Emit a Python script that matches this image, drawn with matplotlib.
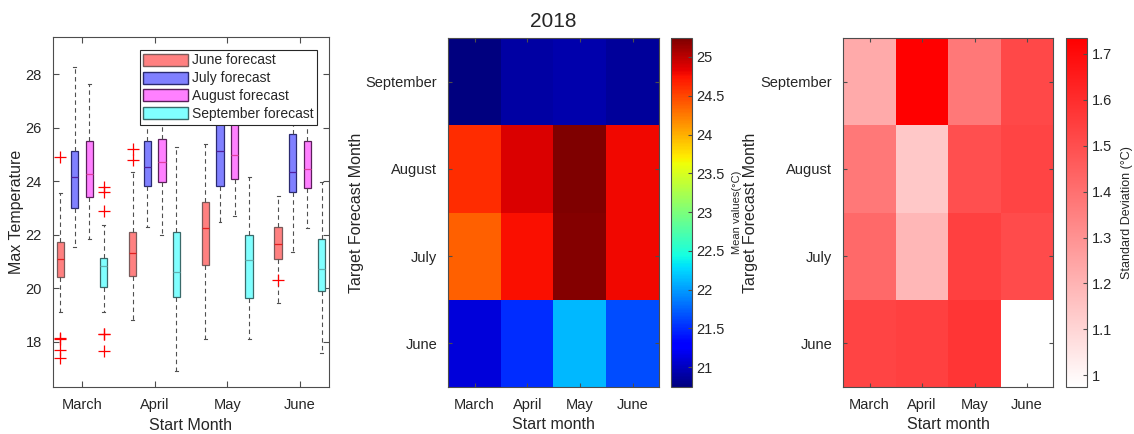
import numpy as np
import matplotlib
matplotlib.use('Agg')
import matplotlib.pyplot as plt
from matplotlib.patches import Patch
from matplotlib.colors import LinearSegmentedColormap

plt.rcParams['font.family'] = ['Liberation Sans', 'DejaVu Sans']
plt.rcParams['text.color'] = '#262626'
plt.rcParams['axes.labelcolor'] = '#262626'
plt.rcParams['xtick.color'] = '#262626'
plt.rcParams['ytick.color'] = '#262626'

start_months = ['March', 'April', 'May', 'June']
target_months = ['June', 'July', 'August', 'September']
series_names = ['June forecast', 'July forecast', 'August forecast', 'September forecast']

# box stats per forecast month, one value per start month
june_q1 = [20.43, 20.47, 20.86, 21.08]
june_med = [21.08, 21.30, 22.24, 21.66]
june_q3 = [21.72, 22.11, 23.21, 22.28]
june_lo = [19.10, 18.81, 18.09, 19.46]
june_hi = [23.57, 24.33, 25.38, 23.46]
june_out = [[24.90, 18.12, 18.08, 17.69, 17.38], [25.20, 24.80], [], [20.29]]

july_q1 = [23.01, 23.82, 23.82, 23.60]
july_med = [24.16, 24.52, 25.13, 24.33]
july_q3 = [25.14, 25.49, 26.60, 25.76]
july_lo = [21.55, 22.30, 22.46, 21.36]
july_hi = [28.26, 27.00, 28.40, 26.80]
july_out = [[], [], [], []]

aug_q1 = [23.42, 23.96, 24.07, 23.73]
aug_med = [24.26, 24.73, 24.98, 24.45]
aug_q3 = [25.49, 25.57, 26.40, 25.52]
aug_lo = [21.83, 21.99, 22.71, 22.25]
aug_hi = [27.64, 27.20, 28.00, 26.80]
aug_out = [[], [], [], []]

sep_q1 = [20.06, 19.65, 19.64, 19.88]
sep_med = [20.81, 20.59, 21.05, 20.70]
sep_q3 = [21.14, 22.09, 21.98, 21.85]
sep_lo = [19.12, 16.90, 18.09, 17.59]
sep_hi = [22.36, 25.27, 24.16, 23.98]
sep_out = [[23.78, 23.60, 22.90, 18.30, 18.27, 17.66], [], [], []]

# mean values, rows = target month (June..September), cols = start month
mean_vals = np.array([
    [21.11, 21.52, 22.12, 21.66],
    [24.38, 24.76, 25.22, 24.80],
    [24.61, 24.88, 25.24, 24.80],
    [20.75, 20.90, 20.93, 20.87],
])
# standard deviation, same layout
std_vals = np.array([
    [1.530, 1.544, 1.575, 0.975],
    [1.420, 1.190, 1.544, 1.510],
    [1.377, 1.139, 1.499, 1.530],
    [1.228, 1.734, 1.377, 1.520],
])

face_cols = ['#ff8080', '#8080ff', '#ff80ff', '#80ffff']
edge_cols = ['#7a5a5a', '#2a2a70', '#5a205a', '#3a6a6a']
med_cols = ['#e02020', '#5020a0', '#e040a0', '#60b0b0']
frame_col = '#4d4d4d'

all_stats = [
    (june_q1, june_med, june_q3, june_lo, june_hi, june_out),
    (july_q1, july_med, july_q3, july_lo, july_hi, july_out),
    (aug_q1, aug_med, aug_q3, aug_lo, aug_hi, aug_out),
    (sep_q1, sep_med, sep_q3, sep_lo, sep_hi, sep_out),
]
offsets = [-0.3, -0.1, 0.1, 0.3]

fig = plt.figure(figsize=(11.34, 4.34), dpi=100)

# ---- boxplots
ax1 = fig.add_axes([0.0467, 0.1083, 0.2434, 0.8065])
for k, (q1, med, q3, lo, hi, out) in enumerate(all_stats):
    stats = []
    for i in range(4):
        stats.append(dict(q1=q1[i], med=med[i], q3=q3[i], whislo=lo[i],
                          whishi=hi[i], fliers=out[i]))
    pos = [i + 1 + offsets[k] for i in range(4)]
    ax1.bxp(stats, positions=pos, widths=0.1, patch_artist=True,
            showfliers=True, capwidths=0.04,
            boxprops=dict(facecolor=face_cols[k], edgecolor=edge_cols[k], linewidth=0.9),
            medianprops=dict(color=med_cols[k], linewidth=0.9),
            whiskerprops=dict(color='#505050', linestyle=(0, (4, 3)), linewidth=0.8),
            capprops=dict(color='#505050', linewidth=0.8),
            flierprops=dict(marker='+', markeredgecolor='red', markersize=8,
                            markeredgewidth=0.9, linestyle='none'))
ax1.set_xlim(0.6, 4.4)
ax1.set_ylim(16.3, 29.4)
ax1.set_xticks([1, 2, 3, 4])
ax1.set_xticklabels(start_months)
ax1.set_yticks([18, 20, 22, 24, 26, 28])
ax1.tick_params(direction='in', length=4, labelsize=10.5, top=True, right=True,
                color=frame_col, pad=8)
ax1.set_xlabel('Start Month', fontsize=11.5, labelpad=4)
ax1.set_ylabel('Max Temperature', fontsize=11.5)
ax1.yaxis.set_label_coords(-0.105, 0.5)
for s in ax1.spines.values():
    s.set_color(frame_col)
    s.set_linewidth(0.8)
handles = [Patch(facecolor=face_cols[k], edgecolor=edge_cols[k], label=series_names[k])
           for k in range(4)]
leg = ax1.legend(handles=handles, loc='upper right', bbox_to_anchor=(0.9565, 0.963),
                 borderaxespad=0, fontsize=10, handlelength=3.2, handleheight=0.95,
                 handletextpad=0.3, labelspacing=0.28, borderpad=0.25,
                 fancybox=False, framealpha=1)
leg.get_frame().set_edgecolor('#262626')
leg.get_frame().set_linewidth(0.8)


def heat_axes(ax, data, cmap, vmin, vmax):
    im = ax.imshow(data, cmap=cmap, vmin=vmin, vmax=vmax, origin='lower',
                   aspect='auto', interpolation='nearest')
    ax.set_xticks(range(4))
    ax.set_xticklabels(start_months)
    ax.set_yticks(range(4))
    ax.set_yticklabels(target_months)
    ax.tick_params(direction='in', length=3, labelsize=10.5, top=True, right=True,
                   color=frame_col, pad=8)
    ax.set_xlabel('Start month', fontsize=11.5, labelpad=4)
    for s in ax.spines.values():
        s.set_color(frame_col)
        s.set_linewidth(0.8)
    return im


# ---- mean values
ax2 = fig.add_axes([0.3953, 0.109, 0.1858, 0.8028])
im2 = heat_axes(ax2, mean_vals, 'jet', mean_vals.min(), mean_vals.max())
ax2.set_ylabel('Target Forecast Month', fontsize=11.5)
ax2.yaxis.set_label_coords(-0.40, 0.5)
ax2.set_title('2018', fontsize=15, pad=8)
cax2 = fig.add_axes([0.5917, 0.109, 0.01825, 0.8028])
cb2 = fig.colorbar(im2, cax=cax2)
cb2.set_ticks(np.arange(21, 25.01, 0.5))
cb2.set_ticklabels(['21', '21.5', '22', '22.5', '23', '23.5', '24', '24.5', '25'])
cb2.ax.tick_params(direction='in', length=3, labelsize=10.5, color=frame_col)
cb2.outline.set_edgecolor(frame_col)
cb2.outline.set_linewidth(0.8)
cb2.set_label('Mean values(°C)', fontsize=8)
cb2.ax.yaxis.set_label_coords(2.95, 0.5)

# ---- standard deviation
reds = LinearSegmentedColormap.from_list('white_red', ['#ffffff', '#ff0000'])
ax3 = fig.add_axes([0.7437, 0.109, 0.1852, 0.8028])
im3 = heat_axes(ax3, std_vals, reds, std_vals.min(), std_vals.max())
ax3.set_ylabel('Target Forecast Month', fontsize=11.5)
ax3.yaxis.set_label_coords(-0.405, 0.5)
cax3 = fig.add_axes([0.940, 0.109, 0.01825, 0.8028])
cb3 = fig.colorbar(im3, cax=cax3)
cb3.set_ticks(np.arange(1.0, 1.71, 0.1))
cb3.set_ticklabels(['1', '1.1', '1.2', '1.3', '1.4', '1.5', '1.6', '1.7'])
cb3.ax.tick_params(direction='in', length=3, labelsize=10.5, color=frame_col)
cb3.outline.set_edgecolor(frame_col)
cb3.outline.set_linewidth(0.8)
cb3.set_label('Standard Deviation (°C)', fontsize=9)
cb3.ax.yaxis.set_label_coords(2.68, 0.5)

fig.savefig('out.png', dpi=100)
